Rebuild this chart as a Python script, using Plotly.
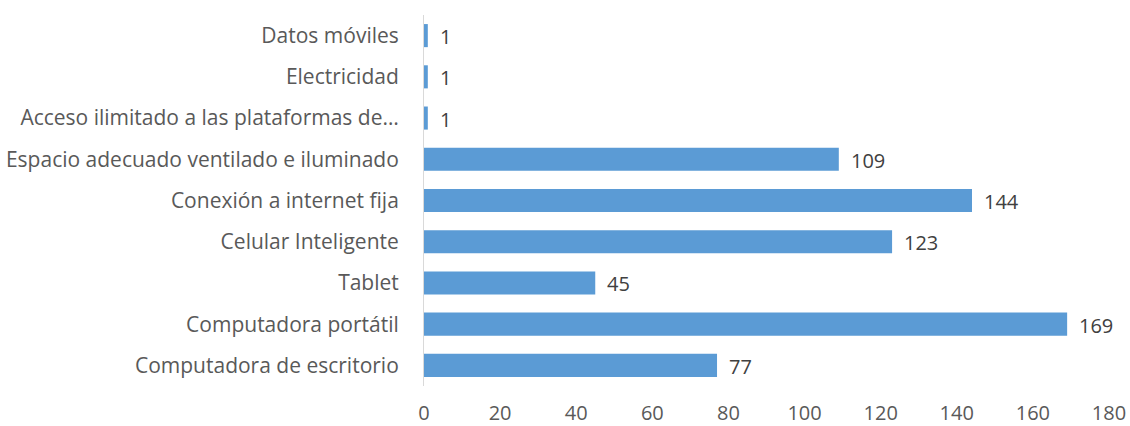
import plotly.graph_objects as go

# Resources available for remote study (bottom to top)
categories = [
    "Computadora de escritorio",
    "Computadora portátil",
    "Tablet",
    "Celular Inteligente",
    "Conexión a internet fija",
    "Espacio adecuado ventilado e iluminado",
    "Acceso ilimitado a las plataformas de…",
    "Electricidad",
    "Datos móviles",
]
counts = [77, 169, 45, 123, 144, 109, 1, 1, 1]
x_ticks = [0, 20, 40, 60, 80, 100, 120, 140, 160, 180]

FONT = "Open Sans"
TEXT_COLOR = "#595959"
BAR_COLOR = "#5B9BD5"
SIZE = 21

fig = go.Figure(
    go.Bar(
        x=counts,
        y=categories,
        orientation="h",
        marker=dict(color=BAR_COLOR, line=dict(width=0)),
        cliponaxis=False,
    )
)

# Value labels to the right of each bar
for cat, val in zip(categories, counts):
    fig.add_annotation(
        x=val, y=cat, text=str(val), showarrow=False,
        xanchor="left", xshift=10, yshift=-1,
        font=dict(family=FONT, size=SIZE - 1, color="#404040"),
    )

fig.update_layout(
    width=1130,
    height=426,
    margin=dict(l=424, r=21, t=15, b=40),
    paper_bgcolor="white",
    plot_bgcolor="white",
    bargap=0.44,
    showlegend=False,
    font=dict(family=FONT, size=SIZE, color=TEXT_COLOR),
)
fig.update_xaxes(
    range=[0, 180],
    tickvals=x_ticks,
    showgrid=False,
    zeroline=False,
    showline=False,
    ticks="outside",
    ticklen=9,
    tickcolor="rgba(0,0,0,0)",
    tickfont=dict(family=FONT, size=SIZE - 1, color=TEXT_COLOR),
    automargin=False,
    fixedrange=True,
)
fig.update_yaxes(
    categoryorder="array",
    categoryarray=categories,
    showgrid=False,
    zeroline=False,
    showline=True,
    linecolor="#D9D9D9",
    linewidth=1,
    ticks="outside",
    ticklen=20,
    tickcolor="rgba(0,0,0,0)",
    tickfont=dict(family=FONT, size=SIZE, color=TEXT_COLOR),
    automargin=False,
    fixedrange=True,
)

fig.write_html("out.html", config={"displayModeBar": False})
